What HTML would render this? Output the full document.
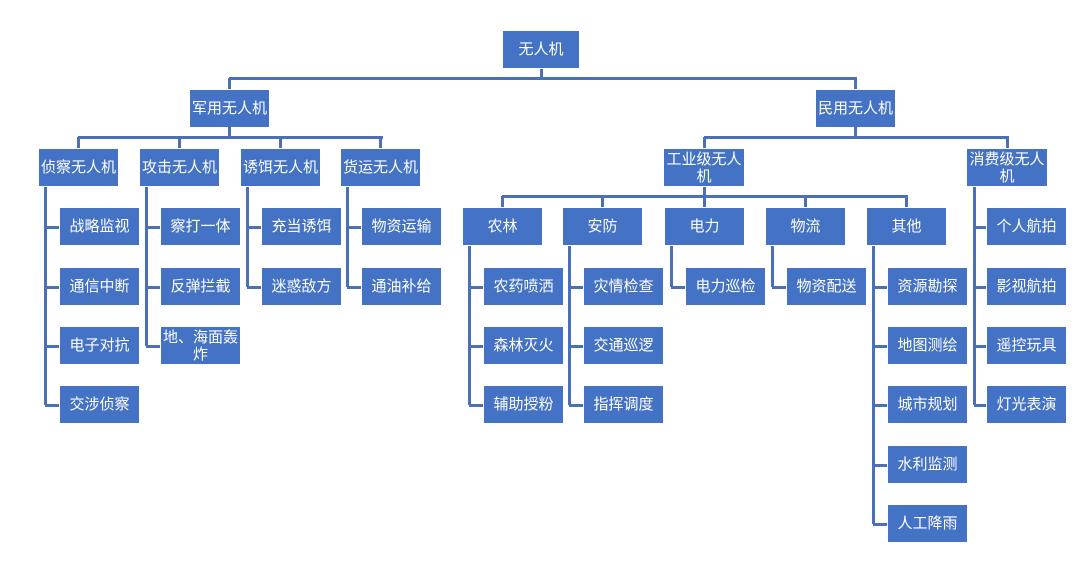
<!DOCTYPE html>
<html><head><meta charset="utf-8"><style>
body{margin:0;width:1080px;height:561px;background:#fff;position:relative;overflow:hidden;font-family:"Liberation Sans","Noto Sans CJK SC",sans-serif}
.b{position:absolute;background:#4472c4;color:#fff;font-size:15px;display:flex;align-items:center;justify-content:center;text-align:center;line-height:17px;box-sizing:border-box;border:1px solid #fff;padding:0}
.l{position:absolute;background:#4a70b8}
</style></head><body>
<div id="c"></div>
<script>
var c=document.getElementById('c'),h='';
function B(x,y,w,t,hh){h+='<div class="b" style="left:'+x+'px;top:'+y+'px;width:'+w+'px;height:'+(hh||39)+'px">'+t+'</div>'}
function H(x1,x2,y){h+='<div class="l" style="left:'+x1+'px;top:'+(y-1)+'px;width:'+(x2-x1+2)+'px;height:3px"></div>'}
function V(x,y1,y2){h+='<div class="l" style="left:'+(x-1)+'px;top:'+y1+'px;width:3px;height:'+(y2-y1)+'px"></div>'}
V(541,68,79);H(229,855,78);V(229,78,89);V(855,78,89);
B(502,30,78,'无人机');B(189,89,81,'军用无人机');B(815,89,81,'民用无人机');
V(229,127,137);H(78,381,137);
var L=[[38,'侦察无人机',['战略监视','通信中断','电子对抗','交涉侦察']],[139,'攻击无人机',['察打一体','反弹拦截','地、海面轰炸']],[240,'诱饵无人机',['充当诱饵','迷惑敌方']],[340,'货运无人机',['物资运输','通油补给']]];
var rows=[207,267,326,385,445,504];
function grp(x,y,t,ch,w){B(x,y,w||81,t);V(x+40,137,148);var vx=x+7;if(ch.length){var last=rows[ch.length-1]+20;V(vx,y+39,last);ch.forEach(function(s,i){var yy=rows[i];H(vx,x+21,yy+20);B(x+21,yy,81,s)});}}
L.forEach(function(g){grp(g[0],148,g[1],g[2])});
V(855,127,137);H(704,1007,137);
V(704,137,148);V(1007,137,148);
B(663,148,82,'工业级无人机');
B(966,148,82,'消费级无人机');
V(704,187,196);H(502,906,196);
var R=[[462,'农林',['农药喷洒','森林灭火','辅助授粉']],[562,'安防',['灾情检查','交通巡逻','指挥调度']],[664,'电力',['电力巡检']],[765,'物流',['物资配送']],[866,'其他',['资源勘探','地图测绘','城市规划','水利监测','人工降雨']]];
R.forEach(function(g){var x=g[0];B(x,207,81,g[1]);V(x+40,196,207);var vx=x+7;V(vx,246,rows[g[2].length]+20);g[2].forEach(function(s,i){H(vx,x+21,rows[i+1]+20);B(x+21,rows[i+1],81,s)})});
V(974,187,405);['个人航拍','影视航拍','遥控玩具','灯光表演'].forEach(function(s,i){H(974,986,rows[i]+20);B(986,rows[i],81,s)});
c.innerHTML=h;
</script>
</body></html>
